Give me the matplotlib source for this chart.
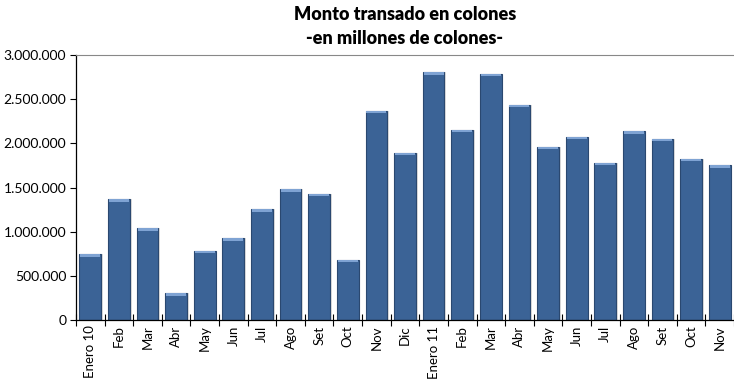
import matplotlib
matplotlib.use("Agg")
import matplotlib.pyplot as plt
from matplotlib.ticker import FuncFormatter, FixedLocator
import numpy as np

# Datos: monto transado (millones de colones)
meses = ["Enero 10", "Feb", "Mar", "Abr", "May", "Jun", "Jul", "Ago", "Set", "Oct",
         "Nov", "Dic", "Enero 11", "Feb", "Mar", "Abr", "May", "Jun", "Jul", "Ago",
         "Set", "Oct", "Nov"]
montos = [745000, 1367000, 1038000, 302000, 785000, 925000, 1253000, 1480000, 1427000,
          680000, 2370000, 1895000, 2805000, 2152000, 2786000, 2438000, 1959000,
          2076000, 1778000, 2137000, 2053000, 1823000, 1752000]

plt.rcParams['font.family'] = ['Lato', 'DejaVu Sans']

fig = plt.figure(figsize=(7.34, 3.80), dpi=100)
ax = fig.add_axes([76 / 734, 60 / 380, 658 / 734, 265 / 380])

x = np.arange(len(meses))
ancho = 0.76
# sombra
ax.bar(x + 0.06, montos, width=ancho, color="#c8c8c8", alpha=0.6, zorder=1)
ax.bar(x, montos, width=ancho, color="#3b6396", edgecolor="#2a4870", linewidth=0.8, zorder=2)
# brillo en la parte superior
tapa = 28000
ax.bar(x, [tapa] * len(montos), bottom=[m - tapa for m in montos], width=ancho * 0.92,
       color="#7fa3d3", linewidth=0, zorder=3)

ax.set_xlim(-0.5, len(meses) - 0.5)
ax.set_ylim(0, 3000000)
ax.set_yticks(np.arange(0, 3000001, 500000))
ax.yaxis.set_major_formatter(FuncFormatter(lambda v, p: f"{int(v):,}".replace(",", ".")))

ax.set_xticks(x)
ax.set_xticklabels(meses, rotation=90, fontsize=9.5)
ax.tick_params(axis="x", length=0, pad=4)
ax.xaxis.set_minor_locator(FixedLocator(np.arange(-0.5, len(meses), 1.0)))
ax.tick_params(axis="x", which="minor", length=8, direction="inout", width=0.8)
ax.tick_params(axis="y", labelsize=10, length=4, width=0.8, direction="out", pad=3)

ax.spines["right"].set_visible(False)
ax.spines["top"].set_color("#888888")
ax.spines["left"].set_linewidth(0.9)
ax.spines["bottom"].set_linewidth(0.9)

fig.text(405 / 734, 1 - 15 / 380, "Monto transado en colones", ha="center", va="center",
         fontsize=13, fontweight="heavy")
fig.text(405 / 734, 1 - 39 / 380, "-en millones de colones-", ha="center", va="center",
         fontsize=13, fontweight="heavy")

fig.savefig("out.png", dpi=100)
